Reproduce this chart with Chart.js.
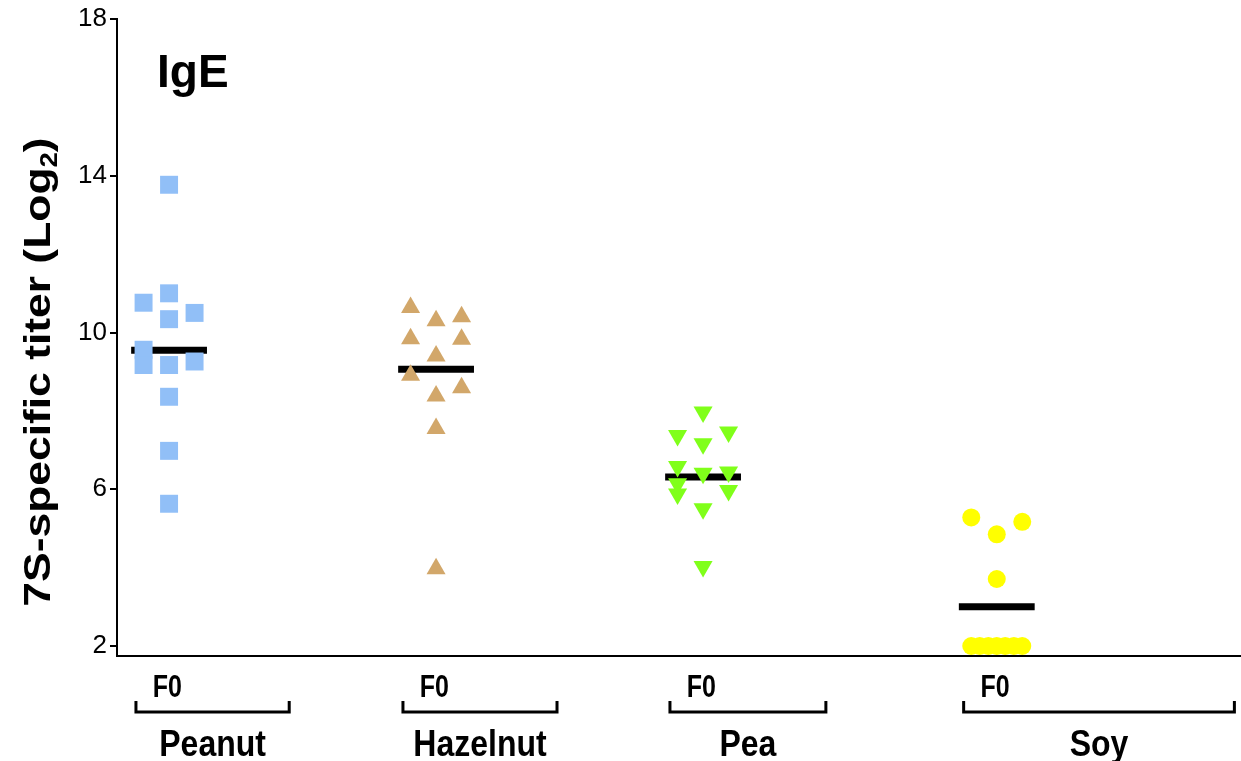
<!DOCTYPE html>
<html><head><meta charset="utf-8">
<script src="https://cdn.jsdelivr.net/npm/chart.js@4.4.1/dist/chart.umd.min.js"></script>
<style>html,body{margin:0;padding:0;background:#fff;overflow:hidden;}canvas{display:block;}</style>
</head><body><canvas id="c" width="1241" height="761"></canvas>
<script>
// ---- data ----
const categories = ['Peanut', 'Hazelnut', 'Pea', 'Soy'];
const subgroup = 'F0';
const panelTitle = 'IgE';
const yTitleMain = '7S-specific titer (Log';
const yTitleSub = '2';
const yTitleEnd = ')';
const yTicks = [2, 6, 10, 14, 18];
const peanut = [13.77, 10.76, 11.0, 10.34, 10.5, 9.56, 9.17, 9.17, 9.26, 8.36, 6.98, 5.63];
const peanutCol = [0, -1, 0, 0, 1, -1, -1, 0, 1, 0, 0, 0];
const hazelnut = [10.64, 10.30, 10.40, 9.84, 9.83, 9.40, 8.91, 8.59, 8.38, 7.55, 3.97];
const hazelnutCol = [-1, 0, 1, -1, 1, 0, -1, 1, 0, 0, 0];
const pea = [7.97, 7.37, 7.46, 7.16, 6.58, 6.41, 6.44, 6.14, 5.88, 5.97, 5.50, 4.03];
const peaCol = [0, -1, 1, 0, -1, 0, 1, -1, -1, 1, 0, 0];
const soy = [5.28, 4.85, 5.17, 3.71, 2, 2, 2, 2, 2, 2, 2];
const soyCol = [-1, 0, 1, 0, -1, -0.67, -0.33, 0, 0.33, 0.67, 1];
const means = [9.55, 9.06, 6.31, 3.0];

// ---- layout (not data) ----
const LAYOUT = {
  centers: [1, 2, 3, 4.1],
  colStep: 0.0955,
  meanHalf: 0.142,
  brackets: [[0.876, 1.45], [1.876, 2.453], [2.876, 3.46], [3.976, 4.99]],
  f0Offset: 0.063
};
const FONT = 'Arial, "Liberation Sans", sans-serif';

const series = [
  {vals: peanut, cols: peanutCol, color: '#91BFF7', style: 'rect', r: 12.7, rot: 0},
  {vals: hazelnut, cols: hazelnutCol, color: '#D2A76A', style: 'triangle', r: 11, rot: 0},
  {vals: pea, cols: peaCol, color: '#80FF1A', style: 'triangle', r: 11, rot: 180},
  {vals: soy, cols: soyCol, color: '#FFFF00', style: 'circle', r: 9, rot: 0}
];

const datasets = [];
series.forEach((s, i) => {
  datasets.push({
    type: 'scatter',
    label: categories[i],
    data: s.vals.map((v, j) => ({x: LAYOUT.centers[i] + s.cols[j] * LAYOUT.colStep, y: v})),
    pointStyle: s.style, pointRadius: s.r, pointRotation: s.rot,
    backgroundColor: s.color, borderWidth: 0, pointBorderWidth: 0,
    order: 0
  });
});
means.forEach((m, i) => {
  datasets.push({
    type: 'line',
    label: categories[i] + ' mean',
    data: [{x: LAYOUT.centers[i] - LAYOUT.meanHalf, y: m}, {x: LAYOUT.centers[i] + LAYOUT.meanHalf, y: m}],
    borderColor: '#000', borderWidth: 7, pointRadius: 0, borderCapStyle: 'butt',
    fill: false, order: 1
  });
});

const annot = {
  id: 'annot',
  afterDraw(chart) {
    const ctx = chart.ctx, xs = chart.scales.x;
    ctx.save();
    ctx.fillStyle = '#000';
    ctx.strokeStyle = '#000';
    // panel title
    ctx.font = 'bold 46px ' + FONT;
    ctx.textAlign = 'left'; ctx.textBaseline = 'alphabetic';
    ctx.fillText(panelTitle, 157, 87);
    // y title (rotated, with subscript)
    ctx.save();
    ctx.translate(50, 372);
    ctx.rotate(-Math.PI / 2);
    ctx.scale(1.2, 1);
    const fMain = 'bold 37px ' + FONT, fSub = 'bold 23px ' + FONT;
    ctx.font = fMain; const w1 = ctx.measureText(yTitleMain).width; const w3 = ctx.measureText(yTitleEnd).width;
    ctx.font = fSub; const w2 = ctx.measureText(yTitleSub).width;
    const x0 = -(w1 + w2 + w3) / 2;
    ctx.font = fMain; ctx.fillText(yTitleMain, x0, 0);
    ctx.font = fSub; ctx.fillText(yTitleSub, x0 + w1, 7);
    ctx.font = fMain; ctx.fillText(yTitleEnd, x0 + w1 + w2, 0);
    ctx.restore();
    // brackets and labels
    LAYOUT.brackets.forEach((b, i) => {
      const a = xs.getPixelForValue(b[0]), e = xs.getPixelForValue(b[1]);
      ctx.lineWidth = 3;
      ctx.beginPath();
      ctx.moveTo(a, 701); ctx.lineTo(a, 712); ctx.lineTo(e, 712); ctx.lineTo(e, 701);
      ctx.stroke();
      ctx.save();
      ctx.translate(xs.getPixelForValue(b[0] + LAYOUT.f0Offset), 697);
      ctx.scale(1, 1.25);
      ctx.font = 'bold 25px ' + FONT; ctx.textAlign = 'left';
      ctx.fillText(subgroup, 0, 0);
      ctx.restore();
      ctx.save();
      ctx.translate((a + e) / 2, 756);
      ctx.scale(1, 1.18);
      ctx.font = 'bold 32px ' + FONT; ctx.textAlign = 'center';
      ctx.fillText(categories[i], 0, 0);
      ctx.restore();
    });
    ctx.restore();
  }
};

new Chart(document.getElementById('c'), {
  type: 'scatter',
  data: {datasets},
  options: {
    responsive: false, animation: false, devicePixelRatio: 1,
    layout: {autoPadding: false, padding: {left: 0, top: 19, right: 1, bottom: 0}},
    plugins: {legend: {display: false}, tooltip: {enabled: false}},
    scales: {
      x: {
        type: 'linear', min: 0.805, max: 5.011,
        ticks: {display: false}, grid: {display: false},
        border: {display: true, color: '#000', width: 2},
        afterFit(s) { s.height = 105; }
      },
      y: {
        type: 'linear', min: 1.745, max: 18,
        afterBuildTicks(s) { s.ticks = yTicks.map(v => ({value: v})); },
        afterFit(s) { s.width = 117; },
        ticks: {color: '#000', font: {family: FONT, size: 26}, padding: 3},
        grid: {display: true, drawOnChartArea: false, drawTicks: true, tickLength: 7, color: '#000', lineWidth: 2},
        border: {display: true, color: '#000', width: 2}
      }
    }
  },
  plugins: [annot]
});
</script></body></html>
